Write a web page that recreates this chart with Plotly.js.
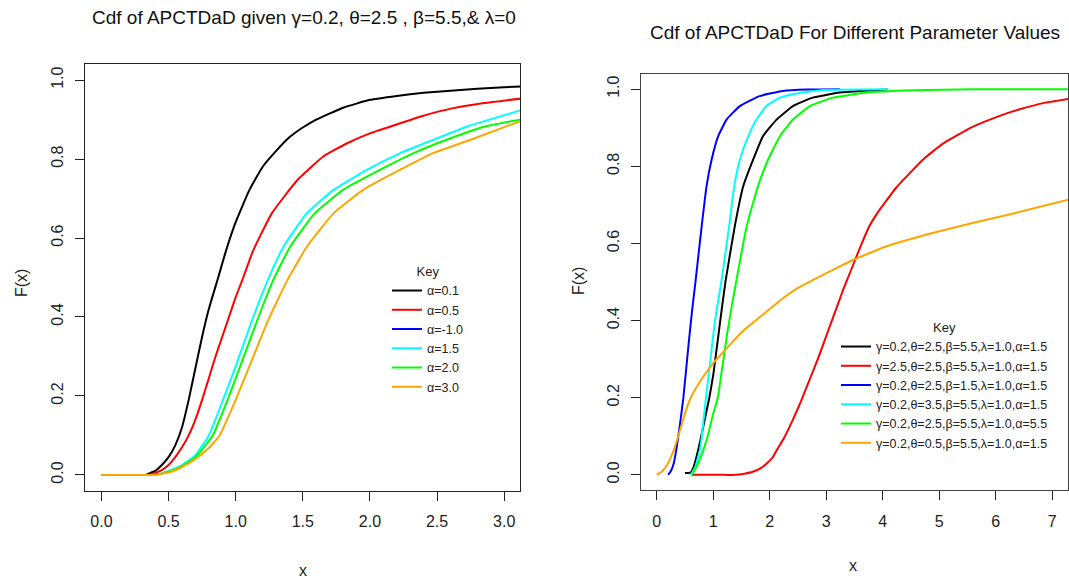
<!DOCTYPE html>
<html>
<head>
<meta charset="utf-8">
<script src="https://cdn.plot.ly/plotly-3.0.1.min.js"></script>
<style>html,body{margin:0;padding:0;background:#fff;}#chart{width:1069px;height:580px;}</style>
</head>
<body>
<div id="chart"></div>
<script>
// ---------- Left panel: gamma=0.2, theta=2.5, beta=5.5, lambda=0 ----------
const leftNames = ["α=0.1", "α=0.5", "α=-1.0", "α=1.5", "α=2.0", "α=3.0"];
const leftColors = ["#000000", "#FF0000", "#0000FF", "#00FFFF", "#00FF00", "#FFA500"];

const a01_x = [0, 0.1, 0.2, 0.3, 0.33, 0.35, 0.4, 0.45, 0.5, 0.55, 0.6, 0.65, 0.7, 0.75, 0.8, 0.87, 0.93, 1.0, 1.1, 1.2, 1.3, 1.4, 1.5, 1.6, 1.8, 2.0, 2.2, 2.4, 2.6, 2.8, 3.0, 3.15];
const a01_y = [0, 0, 0, 0, 0, 0.003, 0.01, 0.025, 0.045, 0.075, 0.12, 0.19, 0.27, 0.35, 0.42, 0.50, 0.57, 0.64, 0.72, 0.78, 0.82, 0.855, 0.88, 0.90, 0.93, 0.95, 0.96, 0.968, 0.973, 0.978, 0.982, 0.984];

const a05_x = [0, 0.1, 0.2, 0.3, 0.35, 0.38, 0.4, 0.45, 0.5, 0.55, 0.6, 0.65, 0.7, 0.75, 0.8, 0.85, 0.9, 0.95, 1.0, 1.05, 1.13, 1.27, 1.46, 1.65, 1.83, 2.0, 2.15, 2.38, 2.62, 2.85, 3.15];
const a05_y = [0, 0, 0, 0, 0, 0.002, 0.005, 0.012, 0.025, 0.045, 0.07, 0.10, 0.14, 0.19, 0.245, 0.30, 0.35, 0.40, 0.45, 0.494, 0.568, 0.663, 0.747, 0.806, 0.84, 0.865, 0.882, 0.908, 0.929, 0.942, 0.954];

const am10_x = [null];
const am10_y = [null];

const a15_x = [0, 0.1, 0.2, 0.3, 0.4, 0.43, 0.5, 0.6, 0.7, 0.8, 0.9, 1.0, 1.12, 1.24, 1.356, 1.53, 1.73, 1.98, 2.226, 2.474, 2.72, 3.15];
const a15_y = [0, 0, 0, 0, 0, 0.002, 0.01, 0.025, 0.05, 0.10, 0.185, 0.275, 0.39, 0.494, 0.578, 0.663, 0.722, 0.773, 0.815, 0.849, 0.882, 0.926];

const a20_x = [0, 0.1, 0.2, 0.3, 0.4, 0.43, 0.5, 0.6, 0.7, 0.83, 0.94, 1.05, 1.17, 1.28, 1.406, 1.59, 1.80, 2.077, 2.325, 2.57, 2.85, 3.15];
const a20_y = [0, 0, 0, 0, 0, 0.002, 0.008, 0.022, 0.045, 0.10, 0.19, 0.29, 0.40, 0.494, 0.578, 0.663, 0.722, 0.773, 0.815, 0.849, 0.882, 0.902];

const a30_x = [0, 0.1, 0.2, 0.3, 0.4, 0.43, 0.5, 0.6, 0.7, 0.8, 0.88, 1.0, 1.12, 1.24, 1.386, 1.53, 1.73, 1.95, 2.226, 2.47, 2.75, 3.15];
const a30_y = [0, 0, 0, 0, 0, 0.002, 0.006, 0.02, 0.04, 0.068, 0.10, 0.19, 0.29, 0.39, 0.494, 0.578, 0.663, 0.722, 0.773, 0.815, 0.849, 0.9];

// ---------- Right panel: different parameter values ----------
const rightNames = [
  "γ=0.2,θ=2.5,β=5.5,λ=1.0,α=1.5",
  "γ=2.5,θ=2.5,β=5.5,λ=1.0,α=1.5",
  "γ=0.2,θ=2.5,β=1.5,λ=1.0,α=1.5",
  "γ=0.2,θ=3.5,β=5.5,λ=1.0,α=1.5",
  "γ=0.2,θ=2.5,β=5.5,λ=1.0,α=5.5",
  "γ=0.2,θ=0.5,β=5.5,λ=1.0,α=1.5"
];
const rightColors = ["#000000", "#FF0000", "#0000FF", "#00FFFF", "#00FF00", "#FFA500"];

const r1_x = [0.5, 0.55, 0.6, 0.65, 0.73, 0.8, 0.93, 1.0, 1.08, 1.15, 1.22, 1.38, 1.53, 1.705, 1.88, 2.12, 2.41, 2.76, 3.24, 3.82, 4.08];
const r1_y = [0.005, 0.005, 0.006, 0.02, 0.063, 0.11, 0.20, 0.26, 0.35, 0.43, 0.505, 0.644, 0.748, 0.817, 0.878, 0.921, 0.956, 0.978, 0.991, 0.997, 0.999];

const r2_x = [0.62, 0.9, 1.2, 1.4, 1.55, 1.7, 1.85, 1.94, 2.05, 2.12, 2.25, 2.4, 2.55, 2.7, 2.85, 3.0, 3.15, 3.3, 3.45, 3.6, 3.76, 3.9, 4.05, 4.24, 4.71, 5.06, 5.59, 6.06, 6.41, 6.88, 7.3];
const r2_y = [0, 0, 0, 0, 0.003, 0.008, 0.018, 0.029, 0.045, 0.063, 0.095, 0.14, 0.19, 0.245, 0.30, 0.36, 0.42, 0.48, 0.535, 0.59, 0.644, 0.678, 0.708, 0.745, 0.817, 0.858, 0.902, 0.930, 0.947, 0.965, 0.975];

const r3_x = [0.2, 0.25, 0.3, 0.35, 0.4, 0.47, 0.55, 0.62, 0.688, 0.794, 0.88, 0.97, 1.087, 1.235, 1.47, 1.82, 2.23, 2.65, 3.24];
const r3_y = [0, 0.01, 0.03, 0.07, 0.12, 0.20, 0.32, 0.42, 0.505, 0.644, 0.748, 0.817, 0.878, 0.921, 0.956, 0.982, 0.995, 0.999, 1.0];

const r4_x = [0.6, 0.68, 0.77, 0.87, 0.95, 1.03, 1.147, 1.28, 1.37, 1.47, 1.62, 1.765, 1.94, 2.18, 2.53, 2.95, 4.1];
const r4_y = [0, 0.02, 0.07, 0.20, 0.30, 0.40, 0.505, 0.644, 0.748, 0.817, 0.878, 0.921, 0.956, 0.978, 0.99, 0.998, 1.0];

const r5_x = [0.62, 0.7, 0.82, 0.9, 1.0, 1.08, 1.15, 1.25, 1.33, 1.41, 1.59, 1.79, 1.97, 2.18, 2.41, 2.71, 3.12, 3.71, 4.53, 5.6, 7.3];
const r5_y = [0, 0.02, 0.063, 0.10, 0.16, 0.20, 0.27, 0.37, 0.44, 0.505, 0.644, 0.748, 0.817, 0.878, 0.921, 0.956, 0.978, 0.991, 0.997, 1.0, 1.0];

const r6_x = [0, 0.1, 0.2, 0.3, 0.4, 0.5, 0.6, 0.8, 1.0, 1.25, 1.5, 1.75, 2.0, 2.25, 2.5, 2.76, 3.1, 3.47, 4.06, 4.88, 5.59, 6.35, 7.3];
const r6_y = [0, 0.01, 0.03, 0.065, 0.11, 0.16, 0.20, 0.25, 0.29, 0.33, 0.37, 0.40, 0.43, 0.46, 0.485, 0.505, 0.53, 0.557, 0.592, 0.627, 0.653, 0.679, 0.714];

const leftXs = [a01_x, a05_x, am10_x, a15_x, a20_x, a30_x];
const leftYs = [a01_y, a05_y, am10_y, a15_y, a20_y, a30_y];
const rightXs = [r1_x, r2_x, r3_x, r4_x, r5_x, r6_x];
const rightYs = [r1_y, r2_y, r3_y, r4_y, r5_y, r6_y];

const FONT = "Liberation Sans, Arial, sans-serif";
const traces = [];
for (let i = 0; i < 6; i++) {
  traces.push({
    x: leftXs[i], y: leftYs[i], type: "scatter", mode: "lines",
    name: leftNames[i], line: {color: leftColors[i], width: 2, shape: "spline", smoothing: 0.4},
    xaxis: "x", yaxis: "y", legend: "legend", hoverinfo: "skip"
  });
}
for (let i = 0; i < 6; i++) {
  traces.push({
    x: rightXs[i], y: rightYs[i], type: "scatter", mode: "lines",
    name: rightNames[i], line: {color: rightColors[i], width: 2, shape: "spline", smoothing: 0.4},
    xaxis: "x2", yaxis: "y2", legend: "legend2", hoverinfo: "skip"
  });
}

function axisBase(lineColor) {
  return {
    showline: true, mirror: true, linecolor: lineColor, linewidth: 1,
    ticks: "outside", ticklen: 9, tickcolor: "#222", tickwidth: 1,
    showgrid: false, zeroline: false,
    tickfont: {family: FONT, size: 16, color: "#222"}
  };
}

const W = 1069, H = 580;
const px = v => v / W, py = v => 1 - v / H;

const layout = {
  width: W, height: H,
  margin: {l: 0, r: 0, t: 0, b: 0},
  paper_bgcolor: "#fff", plot_bgcolor: "#fff",
  font: {family: FONT, color: "#222"},
  showlegend: true,
  xaxis: Object.assign(axisBase("#222"), {
    domain: [px(85.3), px(520.3)], range: [-0.12, 3.12], anchor: "y",
    tick0: 0, dtick: 0.5, tickformat: ".1f", ticklabelstandoff: 7
  }),
  yaxis: Object.assign(axisBase("#222"), {
    domain: [1 - 490.7 / H, 1 - 64.3 / H], range: [-0.04, 1.04], anchor: "x",
    tick0: 0, dtick: 0.2, tickformat: ".1f", tickangle: -90, ticklabelstandoff: 6
  }),
  xaxis2: Object.assign(axisBase("#444"), {
    domain: [px(641), px(1068)], range: [-0.28, 7.28], anchor: "y2",
    tick0: 0, dtick: 1, ticklabelstandoff: 7
  }),
  yaxis2: Object.assign(axisBase("#444"), {
    domain: [1 - 490.3 / H, 1 - 73.7 / H], range: [-0.04, 1.04], anchor: "x2",
    tick0: 0, dtick: 0.2, tickformat: ".1f", tickangle: -90, ticklabelstandoff: 6
  }),
  legend: {
    x: px(387), y: py(259), xanchor: "left", yanchor: "top",
    bgcolor: "rgba(0,0,0,0)", borderwidth: 0,
    font: {family: FONT, size: 12.5, color: "#222"},
    title: {text: "Key", side: "top center", font: {family: FONT, size: 13, color: "#222"}},
    tracegroupgap: 0
  },
  legend2: {
    x: px(836), y: py(315), xanchor: "left", yanchor: "top",
    bgcolor: "rgba(0,0,0,0)", borderwidth: 0,
    font: {family: FONT, size: 12.5, color: "#222"},
    title: {text: "Key", side: "top center", font: {family: FONT, size: 13, color: "#222"}},
    tracegroupgap: 0
  },
  annotations: [
    {text: "Cdf of APCTDaD given γ=0.2, θ=2.5 , β=5.5,& λ=0", xref: "paper", yref: "paper",
     x: px(304), y: py(17), xanchor: "center", yanchor: "middle", showarrow: false,
     font: {family: FONT, size: 19, color: "#111"}},
    {text: "Cdf of APCTDaD For Different Parameter Values", xref: "paper", yref: "paper",
     x: px(854.5), y: py(32), xanchor: "center", yanchor: "middle", showarrow: false,
     font: {family: FONT, size: 19, color: "#111"}},
    {text: "x", xref: "paper", yref: "paper", x: px(303), y: py(570), xanchor: "center", yanchor: "middle",
     showarrow: false, font: {family: FONT, size: 16, color: "#222"}},
    {text: "x", xref: "paper", yref: "paper", x: px(853), y: py(565), xanchor: "center", yanchor: "middle",
     showarrow: false, font: {family: FONT, size: 16, color: "#222"}},
    {text: "F(x)", xref: "paper", yref: "paper", x: px(22), y: py(283), xanchor: "center", yanchor: "middle",
     textangle: -90, showarrow: false, font: {family: FONT, size: 16, color: "#222"}},
    {text: "F(x)", xref: "paper", yref: "paper", x: px(578), y: py(281), xanchor: "center", yanchor: "middle",
     textangle: -90, showarrow: false, font: {family: FONT, size: 16, color: "#222"}}
  ]
};

Plotly.newPlot("chart", traces, layout, {staticPlot: true, displayModeBar: false});
</script>
</body>
</html>
